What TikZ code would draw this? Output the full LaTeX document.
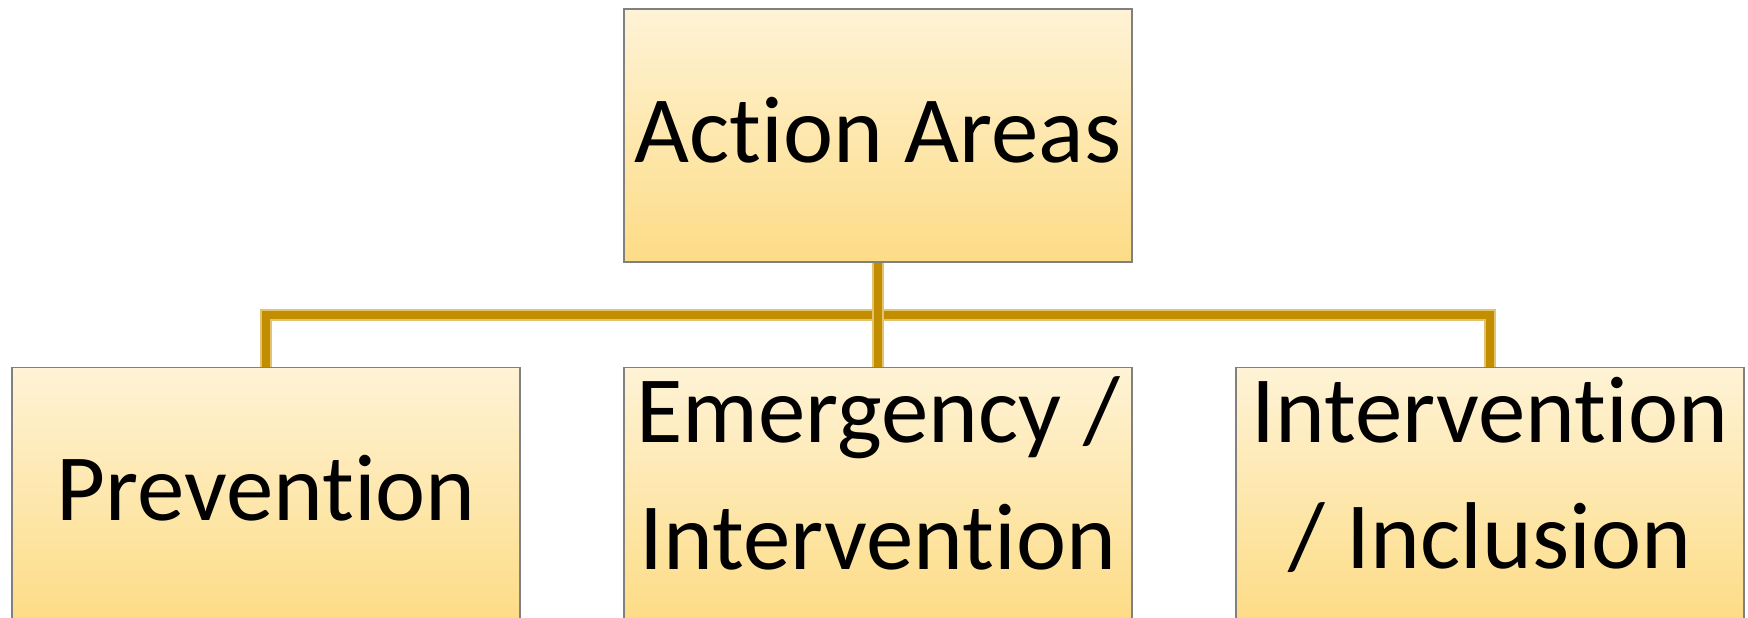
\documentclass[tikz,border=0pt]{standalone}
\usepackage{fontspec}
\setmainfont{Carlito}[Ligatures={NoCommon,NoContextual}]

\definecolor{boxtop}{RGB}{254,243,214}
\definecolor{boxbot}{RGB}{253,220,134}
\definecolor{linkgold}{RGB}{194,142,0}
\definecolor{linklight}{RGB}{226,196,110}

\tikzset{
    areabox/.style={draw=gray, line width=0.4pt, top color=boxtop, bottom color=boxbot,
        minimum width=50.8mm, minimum height=25.3mm, inner sep=0pt, align=center,
        text depth=6.75pt, font=\fontsize{27}{36}\selectfont},
    oneline/.style={text height=22pt},
    twoline/.style={text depth=12pt},
    link/.style={linkgold, line width=2.4pt, preaction={draw=linklight, line width=3.5pt}}
}

\begin{document}
\begin{tikzpicture}[x=0.1mm, y=-0.1mm]

\useasboundingbox (0,0) rectangle (1748,618);

% top of the tree
\node[areabox,oneline] (top) at (878,135.5) {Action Areas};

% the three areas
\node[areabox,oneline] (prev) at (266,494) {Prevention};
\node[areabox,twoline] (emer) at (878,494) {Emergency /\\Intervention};
\node[areabox,twoline] (incl) at (1490,494) {Intervention\\/ Inclusion};

\coordinate (hub) at (878,315);

\draw[link] (hub) -| (prev.north);
\draw[link] (hub) -| (incl.north);
\draw[link] (top.south) -- (emer.north);

\end{tikzpicture}
\end{document}
